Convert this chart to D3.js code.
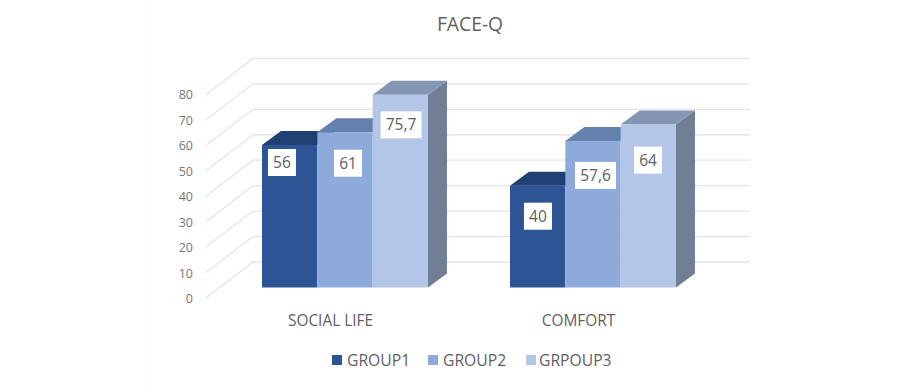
<!DOCTYPE html>
<html>
<head>
<meta charset="utf-8">
<script src="https://cdn.jsdelivr.net/npm/d3@7"></script>
<style>
html, body { margin: 0; padding: 0; background: #fff; }
svg { display: block; }
text { font-family: "Open Sans", "Noto Sans", sans-serif; fill: #606060; }
</style>
</head>
<body>
<svg id="chart"></svg>
<script>
const width = 920;
const height = 392;

const title = "FACE-Q";
const categories = ["SOCIAL LIFE", "COMFORT"];
const groups = ["GROUP1", "GROUP2", "GRPOUP3"];
const group1 = [56, 40];
const group2 = [61, 57.6];
const group3 = [75.7, 64];
const valueLabels = [["56", "40"], ["61", "57,6"], ["75,7", "64"]];
const yTicks = [0, 10, 20, 30, 40, 50, 60, 70, 80];

const seriesValues = [group1, group2, group3];
const frontColors = ["#2d5596", "#8eaadb", "#b3c6e7"];
const topColors = ["#203f72", "#6480ad", "#8496b3"];
const sideColor = "#717f96";

// label boxes were placed by hand in the original: px below bar top, px off bar centre
const labelDrop = [[17.5, 30.5], [31, 34.5], [30, 35.5]];
const labelShift = [[-7.7, 0.3], [3, 2.5], [0.7, -0.3]];

const svg = d3.select("#chart")
    .attr("width", width)
    .attr("height", height)
    .attr("viewBox", `0 0 ${width} ${height}`);

// back wall scale, the 3D walls and bars are offset from it
const y = d3.scaleLinear().domain([0, 80]).range([262, 58.4]);
const barY = d3.scaleLinear().domain([0, 80]).range([287.5, 83.9]);

const x0 = d3.scaleBand().domain(categories).range([262, 676]).paddingInner(0.3306);
const x1 = d3.scaleBand().domain(groups).range([0, x0.bandwidth()]);

const wallDx = 47, wallDy = 36; // side wall
const barDx = 19, barDy = 14;   // bar depth

// grid lines
const grid = svg.append("g").attr("fill", "none").attr("stroke", "#e4e4e4").attr("stroke-width", 1.3);
grid.selectAll("path")
    .data(yTicks)
    .enter()
    .append("path")
    .attr("d", d => `M${253 - wallDx},${y(d) + wallDy}L253,${y(d)}L750,${y(d)}`);

// y axis labels, the axis itself is not visible
const axis = svg.append("g")
    .attr("transform", `translate(193,${wallDy + 0.5})`)
    .call(d3.axisLeft(y).tickValues(yTicks).tickSize(0).tickPadding(0));
axis.select(".domain").remove();
axis.selectAll("text")
    .attr("font-size", 12.5)
    .style("font-family", '"Open Sans", sans-serif')
    .style("fill", "#757575");

// bars, back to front
const bars = svg.append("g");
categories.forEach((cat, c) => {
    groups.forEach((g, s) => {
        const v = seriesValues[s][c];
        const left = x0(cat) + x1(g);
        const right = left + x1.bandwidth();
        const top = barY(v);
        const base = barY(0);
        // the side face only shows on the last bar of a cluster
        if (s === groups.length - 1) {
            bars.append("path")
                .attr("fill", sideColor)
                .attr("d", `M${right},${top}L${right + barDx},${top - barDy}L${right + barDx},${base - barDy}L${right},${base}Z`);
        }
        bars.append("path")
            .attr("fill", topColors[s])
            .attr("d", `M${left},${top}L${left + barDx},${top - barDy}L${right + barDx},${top - barDy}L${right},${top}Z`);
        bars.append("rect")
            .attr("x", left)
            .attr("y", top)
            .attr("width", right - left)
            .attr("height", base - top)
            .attr("fill", frontColors[s]);
    });
});

// value labels
const labels = svg.append("g");
groups.forEach((g, s) => {
    categories.forEach((cat, c) => {
        const text = valueLabels[s][c];
        const cx = x0(cat) + x1(g) + x1.bandwidth() / 2 + labelShift[s][c];
        const cy = barY(seriesValues[s][c]) + labelDrop[s][c];
        const w = text.length > 2 ? 41 : 28;
        labels.append("rect")
            .attr("x", cx - w / 2)
            .attr("y", cy - 13.5)
            .attr("width", w)
            .attr("height", 27)
            .attr("fill", "#fff");
        labels.append("text")
            .attr("x", cx)
            .attr("y", cy)
            .attr("dy", "0.36em")
            .attr("text-anchor", "middle")
            .attr("font-size", 15.5)
            .text(text);
    });
});

// category labels
svg.append("g").selectAll("text")
    .data(categories)
    .enter()
    .append("text")
    .attr("x", d => x0(d) + x0.bandwidth() / 2 - 14.5)
    .attr("y", 326)
    .attr("text-anchor", "middle")
    .attr("font-size", 15.4)
    .text(d => d);

// title
svg.append("text")
    .attr("x", 470)
    .attr("y", 31)
    .attr("text-anchor", "middle")
    .attr("font-size", 19.3)
    .text(title);

// legend
const legendX = d3.scaleOrdinal().domain(groups).range([332, 428, 526]);
const legend = svg.append("g").selectAll("g")
    .data(groups)
    .enter()
    .append("g")
    .attr("transform", d => `translate(${legendX(d)},355)`);
legend.append("rect")
    .attr("width", 10)
    .attr("height", 10)
    .attr("fill", (d, i) => frontColors[i]);
legend.append("text")
    .attr("x", (d, i) => i === 2 ? 13 : 15)
    .attr("y", 10.5)
    .attr("font-size", 15.7)
    .text(d => d);

// faint left edge of the pasted chart
svg.append("line")
    .attr("x1", 149.5).attr("x2", 149.5)
    .attr("y1", 0).attr("y2", height)
    .attr("stroke", "#f7f7f7");
</script>
</body>
</html>
